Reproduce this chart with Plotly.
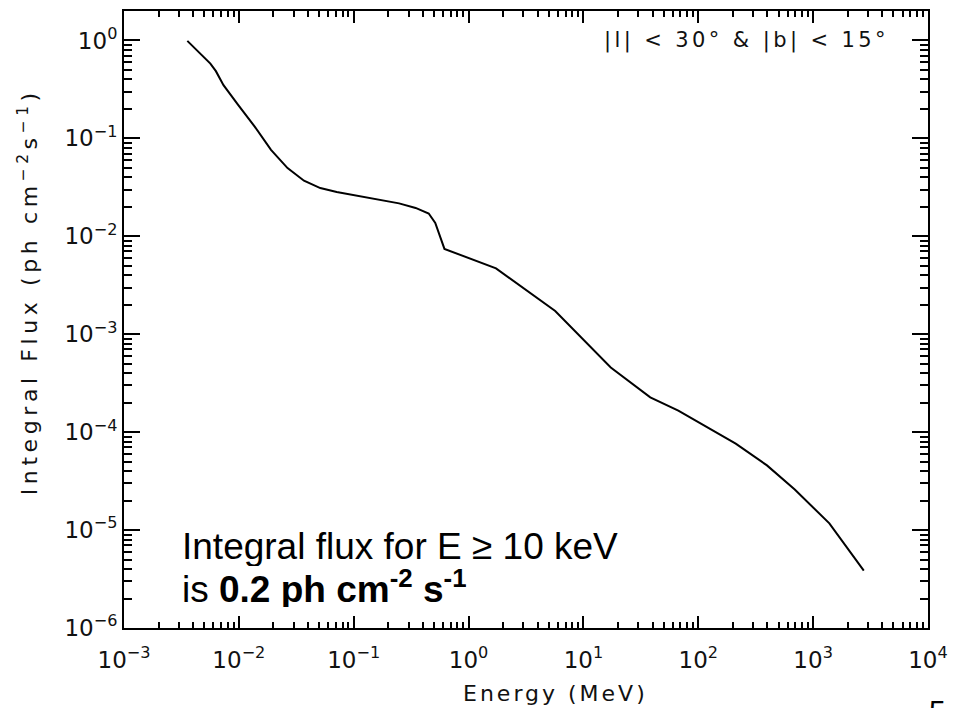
import numpy as np
import plotly.graph_objects as go

# Integral flux spectrum for the inner Galaxy region
energy_mev = [0.00356, 0.00565, 0.00631, 0.00735, 0.00989, 0.01374, 0.01905,
              0.02655, 0.03690, 0.05117, 0.07112, 0.1374, 0.2483, 0.3459,
              0.4498, 0.5129, 0.6166, 1.734, 3.70, 5.68, 17.3, 38.2, 67.0,
              121.1, 211.8, 396.3, 691.8, 1384, 2761]
flux = [0.99, 0.58, 0.486, 0.35, 0.219, 0.132, 0.0764, 0.0497, 0.037,
        0.0311, 0.0283, 0.0246, 0.0217, 0.0195, 0.0171, 0.0137, 0.00744,
        0.0047, 0.00246, 0.00173, 4.58e-4, 2.27e-4, 1.66e-4, 1.12e-4,
        7.62e-5, 4.58e-5, 2.6e-5, 1.17e-5, 3.85e-6]

x_decades = list(range(-3, 5))
y_decades = list(range(-6, 1))

x_title = "Energy (MeV)"
y_title = "Integral Flux (ph cm<sup>\u22122</sup>s<sup>\u22121</sup>)"
region_label = "|l| < 30\u00b0 & |b| < 15\u00b0"
note_line1 = "Integral flux for E \u2265 10 keV"
note_line2 = "is <b>0.2 ph cm<sup>-2</sup> s<sup>-1</sup></b>"
page_number = "5"


def sup_label(p):
    s = str(p).replace("-", "\u2212")
    return f"10<sup>{s}</sup>"


def minor_vals(decades):
    vals = []
    for d in decades[:-1]:
        vals.extend([m * 10.0 ** d for m in range(2, 10)])
    return vals


def spaced(text, px):
    return f'<span style="letter-spacing:{px}px">{text}</span>'


INK = "#111111"
tick_font = dict(family="DejaVu Sans", size=23, color=INK)
label_font = dict(family="DejaVu Sans", size=22, color=INK)

fig = go.Figure()
fig.add_trace(go.Scatter(x=energy_mev, y=flux, mode="lines",
                         line=dict(color="black", width=2),
                         showlegend=False, hoverinfo="skip"))

axis_common = dict(type="log", showgrid=False, zeroline=False,
                   showline=True, linecolor="black", linewidth=2,
                   mirror="ticks", ticks="inside", tickcolor="black",
                   tickwidth=1.5, tickfont=tick_font,
                   ticklabeloverflow="allow")

fig.update_xaxes(**axis_common,
                 range=[-3, 4],
                 tickmode="array",
                 tickvals=[10.0 ** d for d in x_decades],
                 ticktext=[sup_label(d) for d in x_decades],
                 ticklen=12, ticklabelstandoff=10,
                 minor=dict(tickmode="array", tickvals=minor_vals(x_decades),
                            ticks="inside", ticklen=6, tickcolor="black",
                            tickwidth=1.5, showgrid=False))

fig.update_yaxes(**axis_common,
                 range=[-6, np.log10(2.0)],
                 tickmode="array",
                 tickvals=[10.0 ** d for d in y_decades],
                 ticktext=[sup_label(d) for d in y_decades],
                 ticklen=16,
                 minor=dict(tickmode="array", tickvals=minor_vals(y_decades),
                            ticks="inside", ticklen=8, tickcolor="black",
                            tickwidth=1.5, showgrid=False))

# axis titles drawn as annotations so their placement can be set exactly
fig.add_annotation(x=0.537, y=-0.106, xref="paper", yref="paper",
                   xanchor="center", yanchor="middle", showarrow=False,
                   text=spaced(x_title, 3), font=label_font)
fig.add_annotation(x=-0.12, y=0.545, xref="paper", yref="paper",
                   xanchor="center", yanchor="middle", showarrow=False,
                   textangle=-90, text=spaced(y_title, 4.6),
                   font=label_font)

fig.add_annotation(x=0.774, y=0.952, xref="paper", yref="paper",
                   xanchor="center", yanchor="middle", showarrow=False,
                   text=spaced(region_label, 3.4),
                   font=dict(family="DejaVu Sans", size=21, color=INK))

note_font = dict(family="Liberation Sans", size=37, color="black")
fig.add_annotation(x=0.07, y=0.1325, xref="paper", yref="paper",
                   xanchor="left", yanchor="middle", showarrow=False,
                   height=40, valign="middle",
                   text=note_line1, font=note_font)
fig.add_annotation(x=0.07, y=0.066, xref="paper", yref="paper",
                   xanchor="left", yanchor="middle", showarrow=False,
                   height=40, valign="middle",
                   text=note_line2, font=note_font)

fig.add_annotation(x=1.012, y=-0.1033, xref="paper", yref="paper",
                   xanchor="center", yanchor="top", showarrow=False,
                   text=page_number,
                   font=dict(family="Liberation Sans", size=30, color="black"))

fig.update_layout(width=957, height=708,
                  margin=dict(l=124, r=19, t=9, b=80),
                  paper_bgcolor="white", plot_bgcolor="white")

fig.write_html("out.html")
